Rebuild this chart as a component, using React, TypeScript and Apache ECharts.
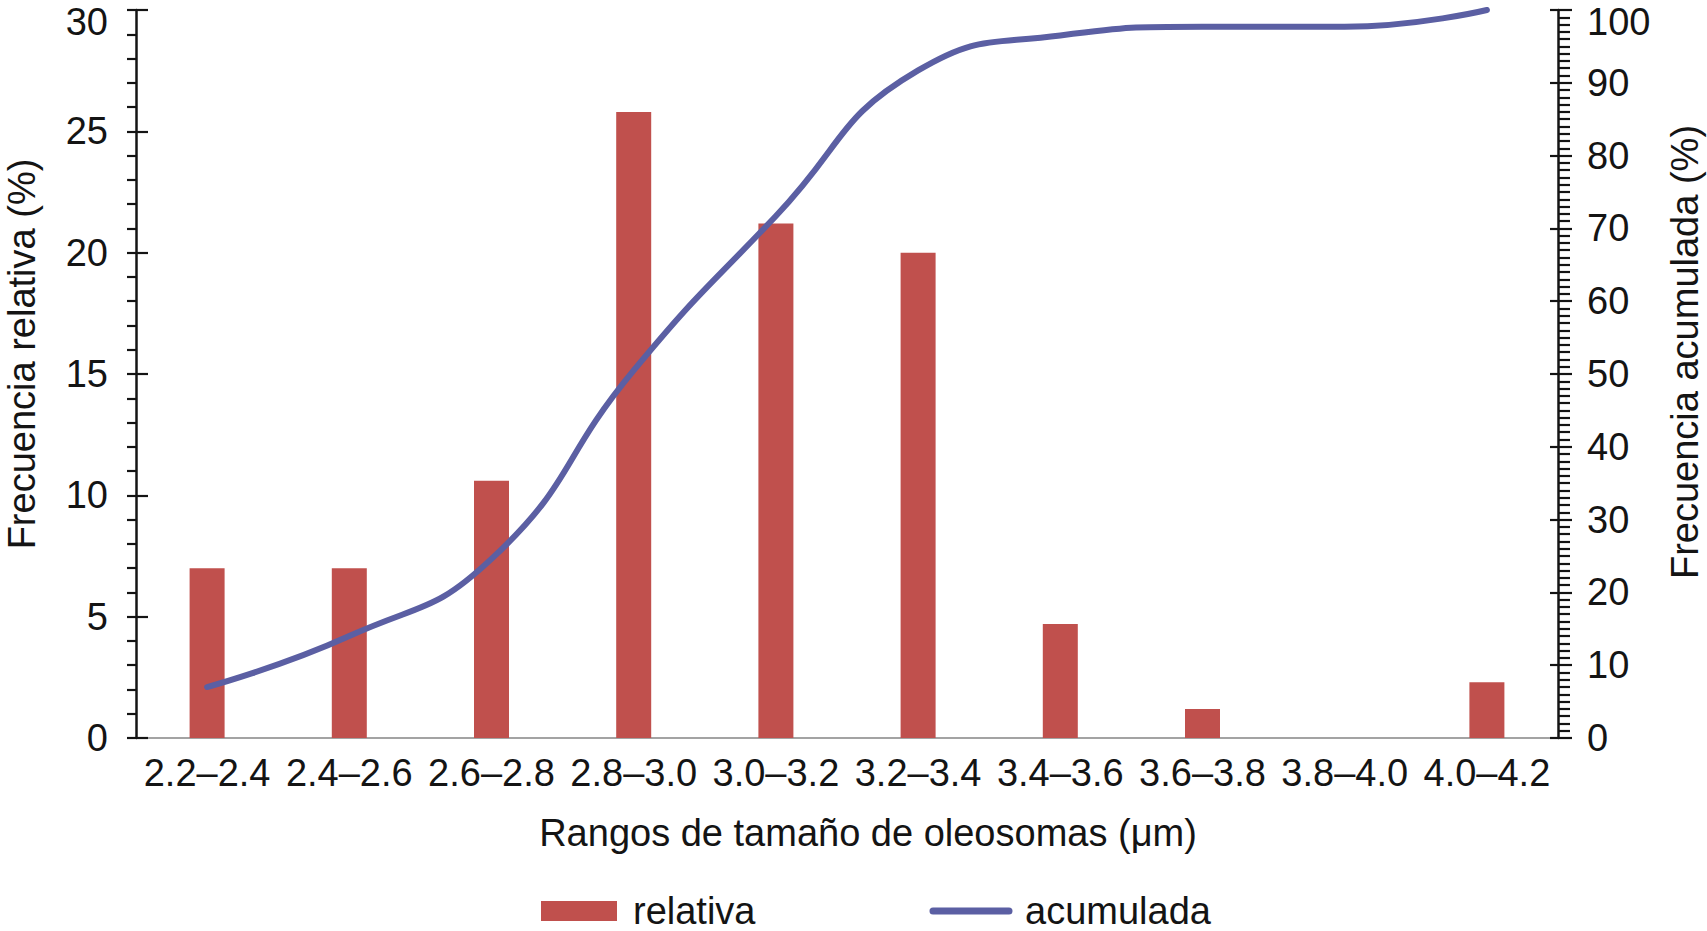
import React, { useEffect, useRef } from "react";
import * as echarts from "echarts";

const categories = [
  "2.2–2.4",
  "2.4–2.6",
  "2.6–2.8",
  "2.8–3.0",
  "3.0–3.2",
  "3.2–3.4",
  "3.4–3.6",
  "3.6–3.8",
  "3.8–4.0",
  "4.0–4.2",
];
const relativa = [7.0, 7.0, 10.6, 25.8, 21.2, 20.0, 4.7, 1.2, 0, 2.3];
const acumulada = [7.0, 14.0, 24.6, 50.5, 71.7, 91.7, 96.5, 97.7, 97.7, 100];

const leftMax = 30;
const rightMax = 100;

const xTitle = "Rangos de tamaño de oleosomas (μm)";
const yLeftTitle = "Frecuencia relativa (%)";
const yRightTitle = "Frecuencia acumulada (%)";

const FONT = "'Liberation Sans', Arial, Helvetica, sans-serif";
const INK = "#141414";
const BAR = "#c0504d";
const LINE = "#5b5fa3";

export default function App() {
  const ref = useRef<HTMLDivElement>(null);

  useEffect(() => {
    if (!ref.current) return;
    const chart = echarts.init(ref.current, undefined, { renderer: "svg" });
    const tickStyle = { color: INK, width: 2.2 };
    const yLabel = {
      fontSize: 38,
      color: INK,
      fontFamily: FONT,
      lineHeight: 28,
      padding: [8, 0, 0, 0],
      showMaxLabel: false,
    };
    const gridLeft = 136;
    const gridRight = 149;
    const W = 1707;
    chart.setOption({
      animation: false,
      backgroundColor: "#ffffff",
      textStyle: { fontFamily: FONT, color: INK },
      grid: { left: gridLeft, right: gridRight, top: 10, bottom: 193, containLabel: false },
      legend: {
        left: 536,
        top: 887,
        itemWidth: 76,
        itemHeight: 20,
        itemGap: 174,
        textStyle: {
          fontSize: 38,
          fontFamily: FONT,
          color: INK,
          lineHeight: 38,
          padding: [0, 0, 0, 11],
        },
        data: [
          { name: "relativa", icon: "rect", itemStyle: { color: BAR } },
          {
            name: "acumulada",
            itemStyle: { opacity: 0, color: LINE },
            lineStyle: { color: LINE, width: 7, cap: "round" },
          },
        ],
      },
      xAxis: {
        type: "category",
        data: categories,
        boundaryGap: true,
        axisLine: { show: true, onZero: false, lineStyle: { color: "#a3a3a3", width: 2 } },
        axisTick: { show: false },
        axisLabel: { interval: 0, fontSize: 38, color: INK, fontFamily: FONT, margin: 16 },
        splitLine: { show: false },
      },
      yAxis: [
        {
          type: "value",
          position: "left",
          min: 0,
          max: leftMax,
          interval: 5,
          axisLine: { show: true, lineStyle: { color: INK, width: 2.5 } },
          axisTick: { show: true, length: 9, lineStyle: tickStyle },
          minorTick: { show: true, splitNumber: 5, length: 9, lineStyle: tickStyle },
          axisLabel: { ...yLabel, margin: 28 },
          splitLine: { show: false },
        },
        {
          type: "value",
          position: "right",
          min: 0,
          max: rightMax,
          interval: 10,
          axisLine: { show: true, lineStyle: { color: INK, width: 2.5 } },
          axisTick: { show: true, length: 14, lineStyle: tickStyle },
          minorTick: { show: true, splitNumber: 10, length: 12, lineStyle: tickStyle },
          axisLabel: { ...yLabel, margin: 29 },
          splitLine: { show: false },
        },
        {
          type: "value",
          position: "left",
          min: 0,
          max: leftMax,
          interval: 5,
          axisLine: { show: false },
          axisTick: { show: true, inside: true, length: 12, lineStyle: tickStyle },
          axisLabel: { show: false },
          splitLine: { show: false },
        },
        {
          type: "value",
          position: "right",
          min: 0,
          max: rightMax,
          interval: 10,
          axisLine: { show: false },
          axisTick: { show: true, inside: true, length: 8, lineStyle: tickStyle },
          axisLabel: { show: false },
          splitLine: { show: false },
        },
      ],
      series: [
        {
          name: "relativa",
          type: "bar",
          yAxisIndex: 0,
          data: relativa,
          barWidth: 35,
          itemStyle: { color: BAR },
          z: 2,
        },
        {
          name: "acumulada",
          type: "line",
          yAxisIndex: 1,
          data: acumulada,
          smooth: 0.5,
          symbol: "none",
          showSymbol: false,
          color: LINE,
          lineStyle: { color: LINE, width: 6, cap: "round" },
          z: 3,
        },
      ],
      graphic: [
        {
          type: "text",
          x: gridLeft - 28,
          y: 22,
          style: {
            text: String(leftMax),
            fontSize: 38,
            fontFamily: FONT,
            fill: INK,
            textAlign: "right",
            textVerticalAlign: "middle",
          },
        },
        {
          type: "text",
          x: W - gridRight + 29,
          y: 22,
          style: {
            text: String(rightMax),
            fontSize: 38,
            fontFamily: FONT,
            fill: INK,
            textAlign: "left",
            textVerticalAlign: "middle",
          },
        },
        {
          type: "text",
          x: 868,
          y: 833,
          style: {
            text: xTitle,
            fontSize: 38,
            fontFamily: FONT,
            fill: INK,
            textAlign: "center",
            textVerticalAlign: "middle",
          },
        },
        {
          type: "text",
          x: 22,
          y: 354,
          rotation: Math.PI / 2,
          style: {
            text: yLeftTitle,
            fontSize: 38,
            fontFamily: FONT,
            fill: INK,
            textAlign: "center",
            textVerticalAlign: "middle",
          },
        },
        {
          type: "text",
          x: 1685,
          y: 352,
          rotation: Math.PI / 2,
          style: {
            text: yRightTitle,
            fontSize: 38,
            fontFamily: FONT,
            fill: INK,
            textAlign: "center",
            textVerticalAlign: "middle",
          },
        },
      ],
    });
    return () => chart.dispose();
  }, []);

  return (
    <div
      ref={ref}
      style={{ position: "fixed", left: 0, top: 0, width: 1707, height: 931, background: "#fff" }}
    />
  );
}
